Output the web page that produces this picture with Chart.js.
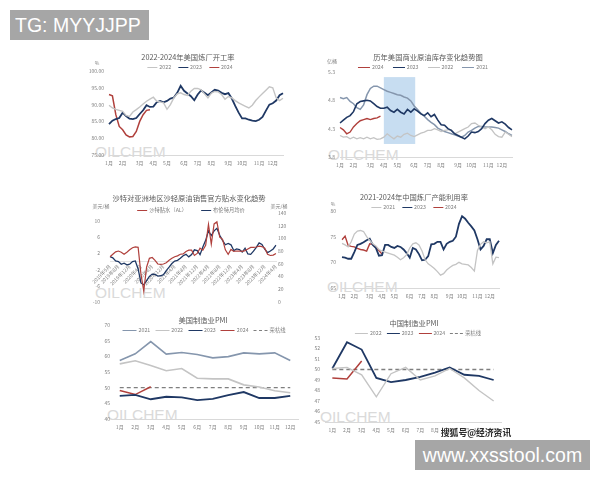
<!DOCTYPE html>
<html>
<head>
<meta charset="utf-8">
<title>炼厂与PMI</title>
<script src="https://cdn.jsdelivr.net/npm/chart.js@4/dist/chart.umd.min.js"></script>
<style>
  body { margin: 0; background: #fff; }
  #page { position: relative; width: 600px; height: 480px; overflow: hidden; background: #fff;
          font-family: "Noto Sans CJK SC", "Noto Sans", sans-serif; }
  .abs { position: absolute; white-space: nowrap; }
  .mid { transform: translate(-50%, -50%); }
  .ttl { font-size: 7.3px; color: #595959; }
  .unit { font-size: 5px; color: #7f7f7f; }
  .lg { display: flex; align-items: center; font-size: 5.3px; color: #7f7f7f; }
  .lg .sw { display: inline-block; height: 0; margin-right: 2px; }
  .wm { font-family: "Liberation Sans", Arial, sans-serif; font-size: 15.5px; line-height: 1; color: #dadada; }
  .tag { background: #a6a6a6; color: #fff; font-family: "Liberation Sans", Arial, sans-serif; }
</style>
</head>
<body>
<div id="page"></div>
<script>
// ---- 数据 ----
const monthNames = ['1月','2月','3月','4月','5月','6月','7月','8月','9月','10月','11月','12月'];
const weekTickPos = [0, 4, 9, 13, 17, 22, 26, 30, 35, 39, 44, 48]; // 每月第一周

// 美国炼厂开工率 %
const utilUS22 = [89.8, 89.0, 88.6, 88.3, 88.0, 86.8, 86.5, 87.8, 88.5, 89.3,
                  90.2, 91.0, 91.6, 92.2, 91.0, 90.8, 90.5, 88.6, 90.0, 92.0,
                  93.2, 93.5, 93.0, 92.7, 94.0, 94.8, 94.8, 94.4, 93.2, 92.0,
                  93.4, 93.9, 93.8, 93.0, 91.6, 92.4, 92.0, 91.2, 90.5, 90.0,
                  89.5, 89.0, 89.8, 91.2, 92.3, 93.3, 94.3, 95.3, 95.0, 92.0,
                  91.2, 91.9];
const utilUS23 = [84.2, 85.2, 85.7, 86.0, 87.6, 86.6, 85.8, 85.7, 86.0, 87.2,
                  88.3, 89.8, 89.3, 89.4, 90.7, 91.1, 90.7, 91.1, 91.8, 92.1,
                  93.5, 95.6, 94.1, 93.3, 92.5, 91.3, 93.0, 94.2, 93.5, 92.8,
                  93.6, 94.4, 94.2, 93.5, 93.1, 93.4, 91.8, 89.6, 87.6, 85.9,
                  85.9, 85.5, 85.2, 85.1, 85.5, 86.3, 88.2, 90.0, 90.4, 91.2,
                  92.8, 93.4];
const utilUS24 = [93.0, 92.6, 87.0, 83.5, 82.5, 81.0, 80.4, 80.5, 82.0, 85.0, 87.0, 88.3, 88.5];

// 美国商业原油库存 亿桶
const stock21 = [4.85, 4.83, 4.85, 4.78, 4.74, 4.67, 4.64, 4.72, 4.90, 5.01,
                 5.05, 5.05, 5.02, 4.99, 4.96, 4.94, 4.92, 4.90, 4.89, 4.86,
                 4.84, 4.79, 4.70, 4.64, 4.57, 4.52, 4.46, 4.41, 4.37, 4.31,
                 4.28, 4.25, 4.23, 4.21, 4.19, 4.17, 4.15, 4.18, 4.24, 4.27,
                 4.31, 4.34, 4.34, 4.33, 4.33, 4.33, 4.32, 4.31, 4.28, 4.25,
                 4.21, 4.18];
const stock22 = [4.18, 4.15, 4.16, 4.12, 4.15, 4.12, 4.14, 4.12, 4.15, 4.12,
                 4.14, 4.11, 4.12, 4.15, 4.21, 4.16, 4.12, 4.17, 4.15, 4.20,
                 4.22, 4.18, 4.16, 4.19, 4.22, 4.24, 4.27, 4.27, 4.30, 4.28,
                 4.25, 4.27, 4.28, 4.28, 4.21, 4.24, 4.27, 4.30, 4.33, 4.39,
                 4.40, 4.36, 4.33, 4.30, 4.33, 4.28, 4.20, 4.16, 4.15, 4.24,
                 4.20, 4.16];
const stock23 = [4.40, 4.45, 4.50, 4.53, 4.60, 4.74, 4.78, 4.79, 4.80, 4.79,
                 4.74, 4.69, 4.66, 4.66, 4.68, 4.62, 4.59, 4.64, 4.59, 4.56,
                 4.64, 4.59, 4.65, 4.61, 4.56, 4.53, 4.58, 4.51, 4.55, 4.45,
                 4.37, 4.36, 4.30, 4.27, 4.21, 4.18, 4.15, 4.12, 4.17, 4.24,
                 4.23, 4.25, 4.30, 4.39, 4.45, 4.48, 4.44, 4.40, 4.42, 4.38,
                 4.32, 4.28];
const stock24 = [4.32, 4.28, 4.21, 4.24, 4.33, 4.39, 4.44, 4.46, 4.48, 4.46, 4.48, 4.49, 4.52];
const shadeWeeks = [13, 22.3];     // 蓝色阴影区间(周)
const shadeRange = [4.03, 5.21];   // 阴影上下限(亿桶)

// 沙特贴水 / 布伦特月均价
const osMonths = ['2019年5月','2019年6月','2019年7月','2019年8月','2019年9月','2019年10月','2019年11月','2019年12月',
  '2020年1月','2020年2月','2020年3月','2020年4月','2020年5月','2020年6月','2020年7月','2020年8月','2020年9月','2020年10月','2020年11月','2020年12月',
  '2021年1月','2021年2月','2021年3月','2021年4月','2021年5月','2021年6月','2021年7月','2021年8月','2021年9月','2021年10月','2021年11月','2021年12月',
  '2022年1月','2022年2月','2022年3月','2022年4月','2022年5月','2022年6月','2022年7月','2022年8月','2022年9月','2022年10月','2022年11月','2022年12月',
  '2023年1月','2023年2月','2023年3月','2023年4月','2023年5月','2023年6月','2023年7月','2023年8月','2023年9月','2023年10月','2023年11月','2023年12月',
  '2024年1月','2024年2月','2024年3月','2024年4月'];
const saudiAL = [1.2, 1.8, 2.4, 2.6, 2.3, 1.8, 2.3, 2.9, 3.4, 3.6,
                 3.5, -3.1, -7.3, -1.4, 0.8, 1.0, 0.3, -0.6, -0.7, -0.6,
                 -0.3, 0.3, 0.8, 1.2, 1.4, 1.8, 1.9, 2.5, 2.8, 2.8,
                 1.5, 2.0, 3.3, 2.8, 4.0, 9.2, 4.3, 9.3, 9.8, 6.0,
                 5.5, 2.9, 1.8, 3.0, 2.5, 2.6, 2.6, 2.5, 2.7, 3.1,
                 3.5, 3.5, 3.6, 3.8, 3.7, 3.3, 1.8, 1.5, 1.6, 2.0];
const brentAvg = [71.3, 69.5, 64.6, 63.5, 59.4, 61.0, 58.4, 59.4, 63.5, 64.6,
                  52.0, 30.0, 27.0, 33.6, 40.3, 43.9, 43.5, 40.8, 41.3, 42.9,
                  49.5, 54.8, 60.5, 64.5, 65.5, 68.7, 72.8, 74.9, 71.0, 74.6,
                  82.0, 80.8, 74.5, 86.5, 97.0, 112.0, 104.5, 112.0, 116.0, 105.0,
                  97.0, 90.0, 92.0, 90.0, 81.0, 83.5, 82.6, 78.5, 84.6, 75.5,
                  75.0, 80.0, 86.0, 93.0, 90.5, 83.0, 77.6, 80.1, 83.5, 89.5];

// 中国炼厂产能利用率 %
const utilCN21 = [73.7, 73.4, 73.0, 74.0, 75.5, 76.1, 76.2, 76.0, 75.0, 74.3,
                  73.6, 73.2, 72.5, 72.2, 72.0, 71.8, 71.6, 71.4, 71.0, 70.5,
                  70.9, 71.5, 72.8, 73.6, 73.8, 73.4, 72.2, 70.5, 69.7, 69.3,
                  68.8, 68.2, 67.5, 67.8, 68.5, 69.0, 69.4, 69.6, 70.0, 69.7,
                  69.6, 69.5, 69.0, 68.3, 72.3, 73.5, 74.0, 73.8, 74.0, 69.7,
                  71.0, 70.9];
const utilCN23 = [71.0, 70.9, 70.7, 70.7, 72.0, 73.4, 73.6, 73.9, 74.3, 74.6,
                  73.4, 72.8, 71.3, 71.4, 73.4, 73.4, 73.0, 72.8, 73.2, 73.0,
                  72.5, 71.8, 70.9, 72.8, 72.5, 71.6, 70.4, 70.5, 71.2, 73.5,
                  73.6, 74.0, 74.0, 72.5, 73.6, 74.0, 74.2, 75.0, 77.5, 79.0,
                  78.5, 77.7, 77.0, 76.2, 74.5, 72.5, 73.2, 74.5, 74.5, 71.8,
                  73.4, 74.2];
const utilCN24 = [74.4, 75.1, 73.3, 73.1, 73.0, 72.7, 72.5, 72.4, 72.2, 73.6, 73.5, 72.9, 72.3, 71.6];

// PMI
const pmiUS21 = [58.7, 60.8, 64.7, 60.7, 61.2, 60.6, 59.5, 59.9, 61.1, 60.8, 61.1, 58.7];
const pmiUS22 = [57.6, 58.6, 57.1, 55.4, 56.1, 53.0, 52.8, 52.8, 50.9, 50.2, 49.0, 48.4];
const pmiUS23 = [47.4, 47.7, 46.3, 47.1, 46.9, 46.0, 46.4, 47.6, 48.6, 46.7, 46.7, 47.4];
const pmiUS24 = [49.1, 47.8, 50.3];
const pmiCN22 = [50.1, 50.2, 49.5, 47.4, 49.6, 50.2, 49.0, 49.4, 50.1, 49.2, 48.0, 47.0];
const pmiCN23 = [50.1, 52.6, 51.9, 49.2, 48.8, 49.0, 49.3, 49.7, 50.2, 49.5, 49.4, 49.0];
const pmiCN24 = [49.2, 49.1, 50.8];
const boomLine = [50, 50, 50, 50, 50, 50, 50, 50, 50, 50, 50, 50];

// ---- 样式 ----
const C = { navy: '#1f3864', red: '#b0403c', grey: '#c4c4c4', slate: '#8596ad', dash: '#7f7f7f' };

Chart.defaults.font.family = "'Noto Sans CJK SC', 'Noto Sans', sans-serif";
Chart.defaults.color = '#7f7f7f';
Chart.defaults.animation = false;
Chart.defaults.plugins.legend.display = false;
Chart.defaults.plugins.tooltip.enabled = false;
Chart.defaults.elements.point.radius = 0;
Chart.defaults.elements.line.tension = 0;

const page = document.getElementById('page');
const weekLabels = [];
for (let i = 0; i < 52; i++) {
    let k = weekTickPos.indexOf(i);
    weekLabels.push(k >= 0 ? monthNames[k] : '');
}

function addText(cls, text, x, y, extra) {
    let d = document.createElement('div');
    d.className = 'abs ' + cls;
    d.textContent = text;
    d.style.left = x + 'px';
    d.style.top = y + 'px';
    if (extra) Object.assign(d.style, extra);
    page.appendChild(d);
    return d;
}

// 图例从数据集生成
function addLegend(chart, x, y, len, gap) {
    let d = document.createElement('div');
    d.className = 'abs mid lg';
    d.style.left = x + 'px';
    d.style.top = y + 'px';
    d.style.gap = gap + 'px';
    chart.data.datasets.forEach(ds => {
        let item = document.createElement('span');
        item.style.display = 'flex';
        item.style.alignItems = 'center';
        let sw = document.createElement('span');
        sw.className = 'sw';
        sw.style.width = len + 'px';
        sw.style.borderTop = Math.max(1.2, ds.borderWidth) + 'px ' + (ds.borderDash ? 'dashed ' : 'solid ') + ds.borderColor;
        item.appendChild(sw);
        item.appendChild(document.createTextNode(ds.label));
        d.appendChild(item);
    });
    page.appendChild(d);
}

function addChart(box, config) {
    let c = document.createElement('canvas');
    c.width = box.w;
    c.height = box.h;
    c.className = 'abs';
    c.style.left = box.x + 'px';
    c.style.top = box.y + 'px';
    c.style.width = box.w + 'px';
    c.style.height = box.h + 'px';
    page.appendChild(c);
    config.options = Object.assign({ responsive: false, devicePixelRatio: 1 }, config.options);
    return new Chart(c, config);
}

function line(label, data, color, width, extra) {
    return Object.assign({ label: label, data: data, borderColor: color, borderWidth: width, fill: false }, extra || {});
}

function xAxis(h, extra) {
    return Object.assign({
        type: 'category',
        grid: { display: false, drawTicks: false },
        border: { color: '#d9d9d9' },
        ticks: { autoSkip: false, maxRotation: 0, minRotation: 0, padding: 5, font: { size: 5 } },
        afterFit: s => { s.height = h; }
    }, extra || {});
}

function yAxis(w, min, max, step, pad, fmt) {
    return {
        min: min, max: max,
        grid: { display: false, drawTicks: false },
        border: { display: false },
        ticks: { stepSize: step, padding: pad, font: { size: 5 }, callback: fmt || (v => v) },
        afterFit: s => { s.width = w; }
    };
}

// 水印
[[95, 144], [328, 147], [95, 285], [327, 279], [107, 407], [320, 409]].forEach(p => addText('wm', 'OILCHEM', p[0], p[1]));

// ---- 1 美国炼厂开工率 ----
const chart1 = addChart({ x: 60, y: 60, w: 230, h: 112 }, {
    type: 'line',
    data: { labels: weekLabels, datasets: [
        line('2022', utilUS22, C.grey, 1.4),
        line('2023', utilUS23, C.navy, 1.8),
        line('2024', utilUS24, C.red, 1.5)
    ] },
    options: {
        layout: { padding: { top: 11, right: 7, bottom: 5, left: 0 } },
        scales: { x: xAxis(12), y: yAxis(49, 75, 100, 5, 5, v => v.toFixed(2)) }
    }
});
addText('ttl mid', '2022-2024年美国炼厂开工率', 188, 57);
addLegend(chart1, 190, 67, 10, 7);
addText('unit mid', '%', 97, 62);

// ---- 2 美国商业原油库存 ----
const shadePlugin = {
    id: 'shade',
    beforeDatasetsDraw(chart) {
        const { ctx, scales: { x, y } } = chart;
        let x0 = x.getPixelForValue(shadeWeeks[0]), x1 = x.getPixelForValue(shadeWeeks[1]);
        let y0 = y.getPixelForValue(shadeRange[1]), y1 = y.getPixelForValue(shadeRange[0]);
        ctx.save();
        ctx.fillStyle = '#c7ddf1';
        ctx.fillRect(x0, y0, x1 - x0, y1 - y0);
        ctx.restore();
    }
};
const chart2 = addChart({ x: 300, y: 60, w: 220, h: 112 }, {
    type: 'line',
    data: { labels: weekLabels, datasets: [
        line('2024', stock24, C.red, 1.4),
        line('2023', stock23, C.navy, 1.6),
        line('2022', stock22, C.grey, 1.3),
        line('2021', stock21, C.slate, 1.5)
    ] },
    options: {
        layout: { padding: { top: 12, right: 8, bottom: 3, left: 0 } },
        scales: { x: xAxis(12), y: yAxis(40, 3.8, 5.3, 0.5, 5, v => v.toFixed(1)) }
    },
    plugins: [shadePlugin]
});
addText('ttl mid', '历年美国商业原油库存变化趋势图', 428, 57);
addLegend(chart2, 423, 67, 12, 9);
addText('unit mid', '亿桶', 332, 60);

// ---- 3 沙特官价贴水 ----
const chart3 = addChart({ x: 50, y: 200, w: 250, h: 115 }, {
    type: 'line',
    data: { labels: osMonths, datasets: [
        line('沙特贴水（AL）', saudiAL, C.red, 1.2, { yAxisID: 'y' }),
        line('布伦特月均价', brentAvg, C.navy, 1.3, { yAxisID: 'y1' })
    ] },
    options: {
        layout: { padding: { top: 13, right: 2, bottom: 13, left: 0 } },
        scales: {
            x: {
                type: 'category',
                position: { y: 0 },
                grid: { display: false, drawTicks: false },
                border: { color: '#e3e3e3' },
                ticks: {
                    autoSkip: false, maxRotation: 45, minRotation: 45, padding: 2, font: { size: 5 },
                    callback: function (v, i) { return (i === 0 || (i + 1) % 4 === 0) ? this.getLabelForValue(v) : ''; }
                }
            },
            y: yAxis(60, -10, 12, 2, 10),
            y1: Object.assign(yAxis(22, 0, 140, 20, 2), { position: 'right' })
        }
    }
});
addText('ttl mid', '沙特对亚洲地区沙轻原油销售官方贴水变化趋势', 189, 198);
addLegend(chart3, 191, 210, 10, 14);
addText('unit mid', '美元/桶', 101, 205);
addText('unit mid', '美元/桶', 279, 205);

// ---- 4 中国炼厂产能利用率 ----
const chart4 = addChart({ x: 300, y: 200, w: 210, h: 105 }, {
    type: 'line',
    data: { labels: weekLabels, datasets: [
        line('2021', utilCN21, C.grey, 1.3),
        line('2023', utilCN23, C.navy, 1.8),
        line('2024', utilCN24, C.red, 1.4)
    ] },
    options: {
        layout: { padding: { top: 11, right: 11, bottom: 5, left: 0 } },
        scales: { x: xAxis(12), y: yAxis(42, 65, 80, 5, 6) }
    }
});
addText('ttl mid', '2021-2024年中国炼厂产能利用率', 414, 197);
addLegend(chart4, 414, 207, 10, 7);
addText('unit mid', '%', 333, 203);

// ---- 5 美国制造业PMI ----
const chart5 = addChart({ x: 60, y: 315, w: 245, h: 120 }, {
    type: 'line',
    data: { labels: monthNames, datasets: [
        line('2021', pmiUS21, C.slate, 1.6),
        line('2022', pmiUS22, C.grey, 1.6),
        line('2023', pmiUS23, C.navy, 1.8),
        line('2024', pmiUS24, C.red, 1.5),
        line('荣枯线', boomLine, C.dash, 1.3, { borderDash: [4, 3] })
    ] },
    options: {
        layout: { padding: { top: 10, right: 7, bottom: 4, left: 0 } },
        scales: { x: xAxis(12, { offset: true }), y: yAxis(52, 40, 70, 5, 2) }
    }
});
addText('ttl mid', '美国制造业PMI', 203, 320);
addLegend(chart5, 204, 330, 14, 5);

// ---- 6 中国制造业PMI ----
const chart6 = addChart({ x: 300, y: 325, w: 210, h: 113 }, {
    type: 'line',
    data: { labels: monthNames, datasets: [
        line('2022', pmiCN22, C.grey, 1.4),
        line('2023', pmiCN23, C.navy, 1.8),
        line('2024', pmiCN24, C.red, 1.5),
        line('荣枯线', boomLine, C.dash, 1.3, { borderDash: [4, 3] })
    ] },
    options: {
        layout: { padding: { top: 13, right: 9, bottom: 4, left: 0 } },
        scales: { x: xAxis(12, { offset: true }), y: yAxis(25, 45, 53, 1, 5) }
    }
});
addText('ttl mid', '中国制造业PMI', 414, 323);
addLegend(chart6, 418, 333, 13, 5);

// ---- 角标 ----
addText('tag', 'TG: MYYJJPP', 10, 10, { width: '139px', height: '30px', lineHeight: '30px', fontSize: '19.5px', paddingLeft: '5px', boxSizing: 'border-box' });
addText('mid', '搜狐号@经济资讯', 476, 432, { fontSize: '8.8px', fontWeight: 'bold', color: '#2b2b2b', textShadow: '0 0 2px #fff' });
addText('tag', 'www.xxsstool.com', 415, 440, { width: '175px', height: '30px', lineHeight: '30px', fontSize: '19.5px', textAlign: 'center' });
</script>
</body>
</html>
